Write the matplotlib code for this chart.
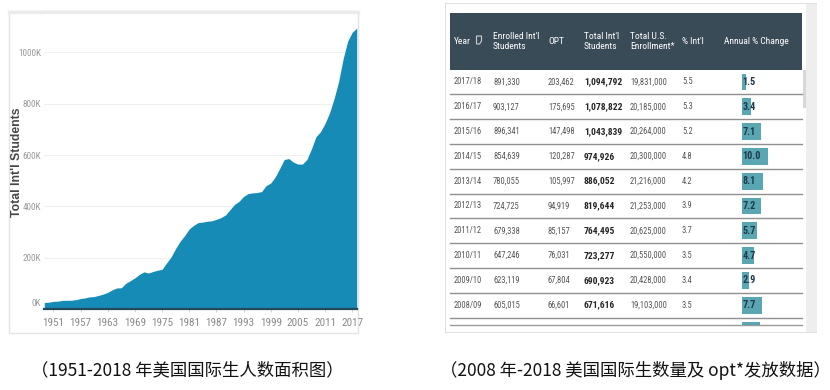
import numpy as np
import matplotlib
matplotlib.use("Agg")
import matplotlib.pyplot as plt
from matplotlib import font_manager as fm
from matplotlib.font_manager import FontProperties
from matplotlib.textpath import TextPath
from matplotlib.patches import Rectangle, Polygon
from matplotlib.lines import Line2D
from matplotlib.transforms import ScaledTranslation

# ---------------- data ----------------
area_years = list(range(1949, 2019))
area_students = [
    25464, 26433, 29813, 30462, 33675, 33833, 34232, 36494, 40666, 43391,
    47245, 48486, 53107, 58086, 64705, 74814, 82045, 82709, 100262, 110315,
    121362, 134959, 144708, 140126, 146097, 151066, 154580, 179344, 203068, 235509,
    263938, 286343, 311882, 326299, 336985, 338894, 342113, 343777, 349609, 356187,
    366354, 386851, 407529, 419585, 438618, 449749, 452635, 453787, 457984, 481280,
    490933, 514723, 547867, 582996, 586323, 572509, 565039, 564766, 582984, 623805,
    671616, 690923, 723277, 764495, 819644, 886052, 974926, 1043839, 1078822, 1094792,
]
x_tick_years = [1951, 1957, 1963, 1969, 1975, 1981, 1987, 1993, 1999, 2005, 2011, 2017]
y_ticks_k = [0, 200, 400, 600, 800, 1000]

table_years = ["2017/18", "2016/17", "2015/16", "2014/15", "2013/14",
               "2012/13", "2011/12", "2010/11", "2009/10", "2008/09"]
enrolled = ["891,330", "903,127", "896,341", "854,639", "780,055",
            "724,725", "679,338", "647,246", "623,119", "605,015"]
opt = ["203,462", "175,695", "147,498", "120,287", "105,997",
       "94,919", "85,157", "76,031", "67,804", "66,601"]
total_intl = ["1,094,792", "1,078,822", "1,043,839", "974,926", "886,052",
              "819,644", "764,495", "723,277", "690,923", "671,616"]
total_us = ["19,831,000", "20,185,000", "20,264,000", "20,300,000", "21,216,000",
            "21,253,000", "20,625,000", "20,550,000", "20,428,000", "19,103,000"]
pct_intl = ["5.5", "5.3", "5.2", "4.8", "4.2", "3.9", "3.7", "3.5", "3.4", "3.5"]
annual_change = [1.5, 3.4, 7.1, 10.0, 8.1, 7.2, 5.7, 4.7, 2.9, 7.7, 7.0]  # last row is cut off
headers = ["Year", "Enrolled Int'l\nStudents", "OPT", "Total Int'l\nStudents",
           "Total U.S.\nEnrollment*", "% Int'l", "Annual % Change"]

caption_left = "（1951-2018 年美国国际生人数面积图）"
caption_right = "（2008 年-2018 美国国际生数量及 opt*发放数据）"

# ---------------- fonts ----------------
ttf = fm.fontManager.ttflist
names = {f.name for f in ttf}
NARROW, NSTRETCH = "Liberation Sans", "normal"
for cand in ["Liberation Sans Narrow", "Arial Narrow", "Roboto Condensed",
             "Noto Sans Condensed", "Open Sans Condensed"]:
    if cand in names:
        NARROW = cand
        break
else:
    for f in ttf:
        if ("Narrow" in f.name or "Condensed" in f.name) and "Mono" not in f.name \
                and "Serif" not in f.name:
            NARROW = f.name
            break
CJK = ["Noto Sans CJK SC", "DejaVu Sans"]


def fit_size(sample, target_px, weight="normal", family=None, lo=4.5, hi=9.0):
    prop = FontProperties(family=family or NARROW, weight=weight, stretch=NSTRETCH)
    w = TextPath((0, 0), sample, size=10, prop=prop).get_extents().width
    size = 10 * target_px / (w * 100 / 72)
    return max(lo, min(hi, size))


W, H = 830, 390
fig = plt.figure(figsize=(W / 100, H / 100), dpi=100)
fig.patch.set_facecolor("white")


def fr(x0, y0, x1, y1):
    """pixel box (top-left origin) -> figure fraction rect"""
    return [x0 / W, 1 - y1 / H, (x1 - x0) / W, (y1 - y0) / H]


# ---------------- left panel frame ----------------
frame_ax = fig.add_axes([0, 0, 1, 1], zorder=-5)
frame_ax.set_xlim(0, W)
frame_ax.set_ylim(H, 0)
frame_ax.axis("off")
frame_ax.add_patch(Rectangle((9, 11), 349, 322, fill=False, ec="#e4e4e4", lw=1.0))
frame_ax.add_line(Line2D([9, 358], [11.5, 11.5], color="#ebebeb", lw=2.5))

# ---------------- area chart ----------------
ax = fig.add_axes(fr(44.3, 14, 356.7, 309))
vals_k = np.array(area_students) / 1000.0
ax.fill_between(area_years, vals_k, 0, color="#168bb5", lw=0)
ax.set_xlim(area_years[0], area_years[-1])
ax.set_ylim(0, 1150)
ax.set_yticks(y_ticks_k)
ax.set_yticklabels([f"{v}K" for v in y_ticks_k])
ax.set_xticks(x_tick_years)
ax.set_xticklabels([str(y) for y in x_tick_years])
ax.grid(axis="y", color="#f0f0f0", lw=0.8)
ax.set_axisbelow(True)
for s in ax.spines.values():
    s.set_visible(False)
ax.tick_params(axis="y", length=0, pad=2.5, labelsize=6.6, labelcolor="#9a9a9a")
ax.tick_params(axis="x", length=2.5, width=0.6, color="#cfcfcf", pad=4,
               labelsize=8, labelcolor="#8a8a8a")
for lab in ax.get_xticklabels() + ax.get_yticklabels():
    lab.set_fontfamily(NARROW)
    lab.set_fontstretch(NSTRETCH)
# the "0K" label sits a little above the baseline in the reference
zero_lab = ax.get_yticklabels()[0]
zero_lab.set_transform(zero_lab.get_transform() + ScaledTranslation(0, 5 / 72, fig.dpi_scale_trans))
ax.axhline(0, color="#24495a", lw=1.6, clip_on=False, zorder=3)

fig.text(17 / W, 1 - 162 / H, "Total Int'l Students", rotation=90,
         ha="center", va="center", fontsize=8.8, fontweight="bold",
         color="#474747", family="Liberation Sans")

# ---------------- table panel ----------------
tx0, ty0, tx1, ty1 = 445, 3, 817, 333
tab = fig.add_axes(fr(tx0, ty0, tx1, ty1))
tab.set_xlim(tx0, tx1)
tab.set_ylim(ty1, ty0)
tab.axis("off")
tab.add_patch(Rectangle((tx0, ty0), tx1 - tx0, ty1 - ty0, fc="white", ec="#dcdcdc", lw=1.2))
# scrollbar
tab.add_patch(Rectangle((806, 4), 11, 328, fc="#eeeeee", ec="none"))
tab.add_patch(Rectangle((802.5, 70), 3, 38, fc="#d8d8d8", ec="none"))

# header
hx0, hx1, hy0, hy1 = 450, 802, 12.7, 70
tab.add_patch(Rectangle((hx0, hy0), hx1 - hx0, hy1 - hy0, fc="#3a4b58", ec="none"))
col_x = [454, 493, 548, 584, 630, 682, 724]
hy = (hy0 + hy1) / 2 + 0.5
head_size = fit_size("Annual % Change", 64, weight="normal", hi=8.2)
for x, h in zip(col_x, headers):
    tab.text(x, hy, h, color="white", fontsize=head_size, fontweight="normal",
             family=NARROW, fontstretch=NSTRETCH, ha="left", va="center", linespacing=1.15)
# filter icon next to "Year"
fx, fy = 479, 40
tab.add_patch(Polygon([[fx - 2.5, fy - 4], [fx + 2.5, fy - 4], [fx + 2.5, fy + 1],
                       [fx + 0.5, fy + 4], [fx - 2.5, fy + 4]],
                      closed=True, fill=False, ec="#c8d0d6", lw=0.8))

# rows
row0, row_h = 82, 24.8
n = len(table_years)
row_c = [row0 + i * row_h for i in range(n)]
txt_col = "#555555"
data_size = fit_size("891,330", 26, hi=8)
bold_size = fit_size("1,094,792", 37, weight="bold", hi=8.5)
for i in range(n):
    y = row_c[i]
    kw = dict(fontsize=data_size, color=txt_col, family=NARROW, fontstretch=NSTRETCH,
              va="center")
    tab.text(col_x[0], y, table_years[i], **kw)
    tab.text(col_x[1], y, enrolled[i], **kw)
    tab.text(col_x[2], y, opt[i], **kw)
    tab.text(col_x[3], y, total_intl[i], fontsize=bold_size, color="#262626", family=NARROW,
             fontstretch=NSTRETCH, fontweight="bold", va="center")
    tab.text(col_x[4], y, total_us[i], **kw)
    tab.text(col_x[5], y, pct_intl[i], **kw)
    tab.add_line(Line2D([hx0, hx1], [y + row_h / 2, y + row_h / 2], color="#8f8f8f", lw=1.0))
tab.add_line(Line2D([hx0, hx1], [325, 325], color="#9a9a9a", lw=1.0))

# annual change bars (own axes so bar lengths come from the values)
bx0, bx1 = 741.7, 801.7
bar_ax = fig.add_axes(fr(bx0, 70, bx1, 325))
bar_ax.set_xlim(0, (bx1 - bx0) / 2.65)
bar_ax.set_ylim(325, 70)
bar_ax.axis("off")
all_c = [row0 + i * row_h for i in range(len(annual_change))]
bar_ax.barh(all_c, annual_change, left=0, height=16.7, color="#5aa6b3", lw=0)
bar_txt = fit_size("10.0", 17, weight="bold", hi=8)
for i in range(n):
    bar_ax.text(0.35, row_c[i], f"{annual_change[i]:.1f}", fontsize=bar_txt, fontweight="bold",
                color="#1f3a4d", family=NARROW, fontstretch=NSTRETCH, va="center", ha="left")

# ---------------- captions ----------------
fig.text(187.5 / W, 1 - 370 / H, caption_left, ha="center", va="center",
         fontsize=12.5, family=CJK, color="#111111")
fig.text(635 / W, 1 - 370 / H, caption_right, ha="center", va="center",
         fontsize=12.5, family=CJK, color="#111111")

fig.savefig("out.png", dpi=100, facecolor="white")
